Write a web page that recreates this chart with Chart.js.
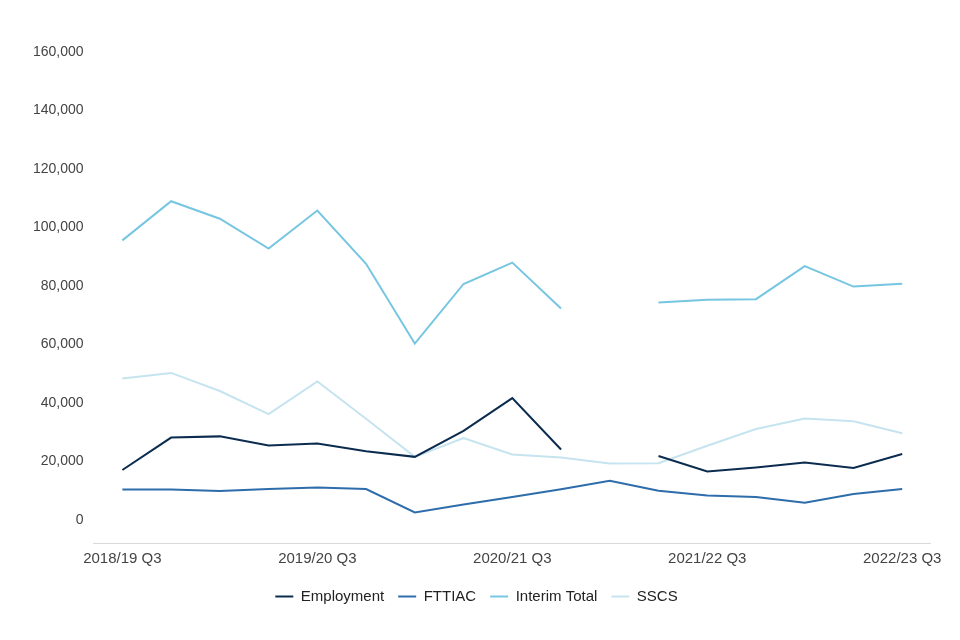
<!DOCTYPE html>
<html>
<head>
<meta charset="utf-8">
<script src="https://cdn.jsdelivr.net/npm/chart.js@4"></script>
<style>
  html, body { margin: 0; padding: 0; background: #fff; }
  #wrap { width: 960px; height: 640px; }
</style>
</head>
<body>
<div id="wrap"><canvas id="tribunalChart" width="960" height="640"></canvas></div>
<script>
const quarters = [
  '2018/19 Q3', '2018/19 Q4', '2019/20 Q1', '2019/20 Q2',
  '2019/20 Q3', '2019/20 Q4', '2020/21 Q1', '2020/21 Q2',
  '2020/21 Q3', '2020/21 Q4', '2021/22 Q1', '2021/22 Q2',
  '2021/22 Q3', '2021/22 Q4', '2022/23 Q1', '2022/23 Q2',
  '2022/23 Q3'
];

const employment = [17100, 28200, 28600, 25500, 26200, 23500, 21600, 30500, 41700, 24100,
  null, 21900, 16600, 18000, 19700, 17800, 22600];
const fttiac = [10400, 10400, 9900, 10600, 11100, 10600, 2600, 5300, 7900, 10500,
  13400, 10000, 8400, 7900, 5900, 8900, 10600];
const interimTotal = [95600, 109000, 103000, 92800, 105800, 87600, 60300, 80700, 88000, 72300,
  null, 74400, 75300, 75500, 86800, 79800, 80800];
const sscs = [48400, 50300, 44100, 36200, 47400, 34600, 21600, 28000, 22400, 21400,
  19300, 19400, 25400, 31100, 34700, 33800, 29700];

const yTicks = [0, 20000, 40000, 60000, 80000, 100000, 120000, 140000, 160000];
const xTickIdx = [0, 4, 8, 12, 16];

window.onload = () => {
  const ctx = document.getElementById('tribunalChart').getContext('2d');

  // x is the quarter index so the axis can run a little past the end points
  const line = (label, data, color) => ({
    label: label,
    data: data.map((v, i) => ({ x: i, y: v })),
    borderColor: color,
    backgroundColor: color,
    borderWidth: 2,
    pointRadius: 0,
    pointHoverRadius: 0,
    tension: 0,
    spanGaps: false
  });

  new Chart(ctx, {
    type: 'line',
    data: {
      datasets: [
        line('Employment', employment, '#0b2c4f'),
        line('FTTIAC', fttiac, '#2e6dab'),
        line('Interim Total', interimTotal, '#76c6e2'),
        line('SSCS', sscs, '#c6e4ef')
      ]
    },
    options: {
      responsive: false,
      animation: false,
      layout: { padding: { left: 23, right: 30, top: 52, bottom: 26 } },
      scales: {
        x: {
          type: 'linear',
          min: -0.59,
          max: 16.57,
          afterBuildTicks: (axis) => { axis.ticks = xTickIdx.map(v => ({ value: v })); },
          grid: { display: false, drawTicks: false },
          border: { display: true, color: '#d9d9d9', width: 1 },
          ticks: {
            autoSkip: false,
            maxRotation: 0,
            padding: 7,
            color: '#444',
            font: { family: 'Liberation Sans', size: 15 },
            callback: (v) => quarters[v]
          }
        },
        y: {
          min: -7850,
          max: 160000,
          afterBuildTicks: (axis) => { axis.ticks = yTicks.map(v => ({ value: v })); },
          grid: { display: false, drawTicks: false },
          border: { display: false },
          ticks: {
            padding: 10,
            color: '#444',
            font: { family: 'Liberation Sans', size: 14 },
            callback: (v) => v.toLocaleString('en-GB')
          }
        }
      },
      plugins: {
        tooltip: { enabled: false },
        legend: {
          position: 'bottom',
          labels: {
            usePointStyle: true,
            pointStyle: 'line',
            pointStyleWidth: 18,
            padding: 14,
            color: '#222',
            font: { family: 'Liberation Sans', size: 15 }
          }
        }
      }
    }
  });
};
</script>
</body>
</html>
